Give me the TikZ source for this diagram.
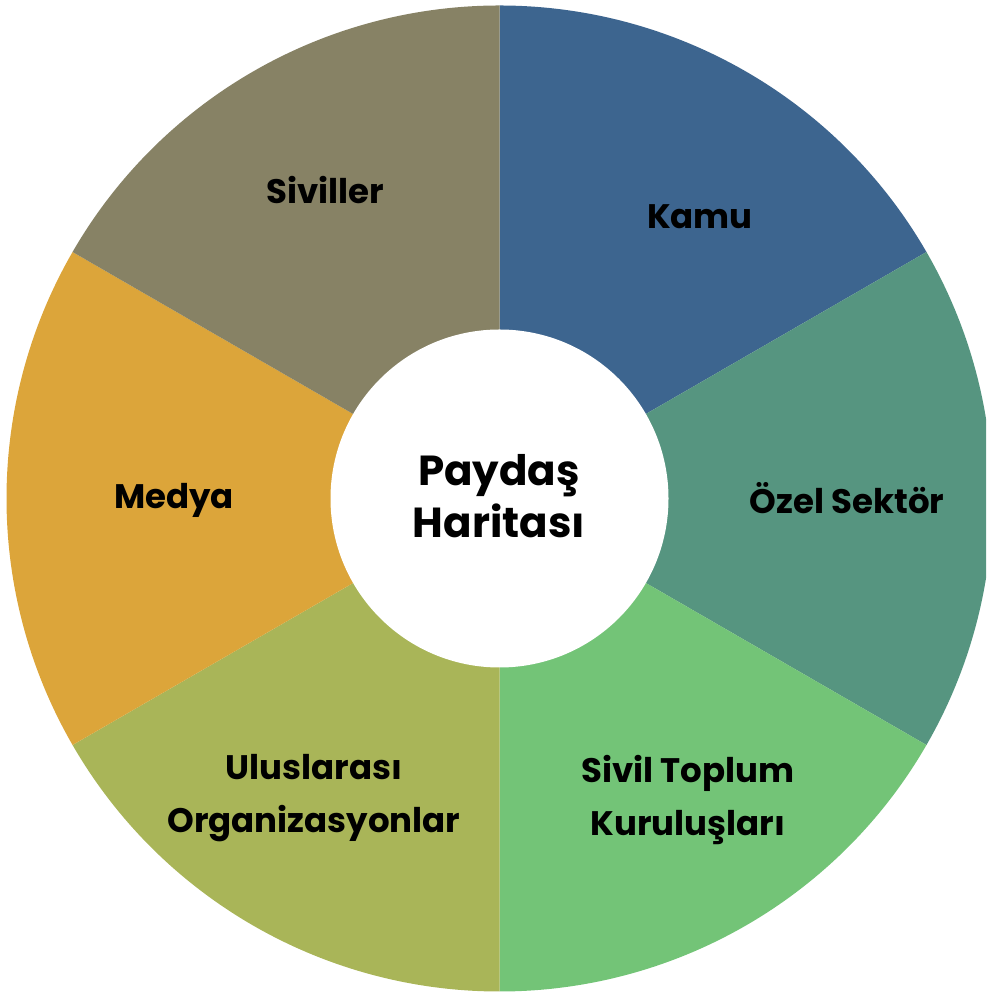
\documentclass[tikz,border=0pt]{standalone}
\usepackage{fontspec}
\setmainfont{Poppins}
\definecolor{kamu}{HTML}{3D658F}
\definecolor{ozel}{HTML}{569580}
\definecolor{stk}{HTML}{73C477}
\definecolor{ulus}{HTML}{A9B558}
\definecolor{medya}{HTML}{DCA53A}
\definecolor{sivil}{HTML}{878265}
\tikzset{
  lbl/.style={align=center, text=black, font=\fontsize{34}{53}\selectfont\bfseries, inner sep=0pt},
  ctr/.style={align=center, text=black, font=\fontsize{42}{52}\selectfont\bfseries, inner sep=0pt}
}
\begin{document}
\begin{tikzpicture}[x=1pt,y=1pt]
\useasboundingbox (0,0) rectangle (986,992);
\clip (0,0) rectangle (986,992);
\coordinate (c) at (499.5,493.5);
\def\R{493}
\fill[kamu]  (c) -- ++(90:\R)  arc[start angle=90,  end angle=30,  radius=\R] -- cycle;
\fill[ozel]  (c) -- ++(30:\R)  arc[start angle=30,  end angle=-30, radius=\R] -- cycle;
\fill[stk]   (c) -- ++(-30:\R) arc[start angle=-30, end angle=-90, radius=\R] -- cycle;
\fill[ulus]  (c) -- ++(-90:\R) arc[start angle=-90, end angle=-150,radius=\R] -- cycle;
\fill[medya] (c) -- ++(210:\R) arc[start angle=210, end angle=150, radius=\R] -- cycle;
\fill[sivil] (c) -- ++(150:\R) arc[start angle=150, end angle=90,  radius=\R] -- cycle;
\fill[white] (c) circle[radius=169];
\node[lbl] (kamu) at (700,775) {Kamu};
\node[lbl] (siviller) at (325,802) {Siviller};
\node[lbl] (ozel) at (847,494) {Özel Sektör};
\node[lbl] (medya) at (174,492) {Medya};
\node[lbl] (stk) at (688,192) {Sivil Toplum\\Kuruluşları};
\node[lbl] (ulus) at (314,194) {Uluslarası\\Organizasyonlar};
\node[ctr] (center) at (499,496) {Paydaş\\Haritası};
\end{tikzpicture}
\end{document}
